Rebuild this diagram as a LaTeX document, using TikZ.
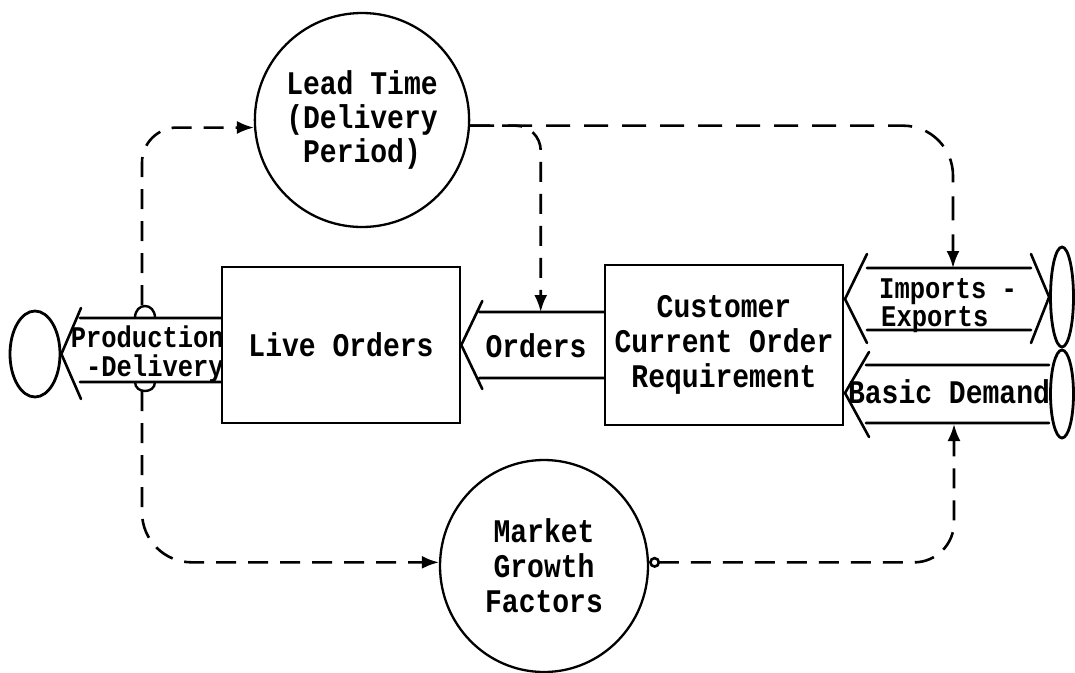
\documentclass[tikz,border=0pt]{standalone}
\usepackage{fontspec}
\setmonofont[FakeStretch=0.85]{Liberation Mono}
\usetikzlibrary{shapes.geometric, arrows.meta, calc}

\begin{document}
\begin{tikzpicture}[x=1pt, y=-1pt,
  every node/.style={font=\ttfamily\bfseries\fontsize{33}{34}\selectfont, inner sep=0pt},
  box/.style={draw, line width=2.6pt, minimum width=238pt},
  bubble/.style={draw, ellipse, line width=2.3pt, align=center},
  source/.style={draw, ellipse, line width=2.8pt},
  fat/.style={line width=2.6pt, line join=round, line cap=round},
  tip/.style={-{Latex[length=17pt, width=13pt]}},
  flowline/.style={line width=2.6pt, dash pattern=on 20pt off 12pt, tip},
  valve/.style={line width=2.4pt},
  tight/.style={font=\ttfamily\bfseries\fontsize{30}{30}\selectfont}]

\useasboundingbox (0,0) rectangle (1075,672);

% ---- levels and auxiliaries -------------------------------------------
\node[bubble, minimum width=210pt, minimum height=214pt] (lead) at (362,120)
  {Lead Time\\(Delivery\\Period)};
\node[bubble, minimum width=208pt, minimum height=212pt,
      font=\ttfamily\bfseries\fontsize{33}{35}\selectfont] (market) at (544,566)
  {Market\\Growth\\Factors};

\node[box, minimum height=156pt] (live) at (341,345) {Live Orders};
\node[box, minimum height=160pt, align=center,
      font=\ttfamily\bfseries\fontsize{33}{35}\selectfont] (cust) at (724,345)
  {Customer\\Current Order\\Requirement};

% ---- sources and sinks -------------------------------------------------
\node[source, minimum width=50pt, minimum height=86pt] (sinkP) at (35,354) {};
\node[source, minimum width=23pt, minimum height=100pt] (srcIE) at (1062,297) {};
\node[source, minimum width=23pt, minimum height=88pt] (srcBD) at (1062,394) {};

% ---- Orders flow (customer -> live orders) -----------------------------
\coordinate (ordTop) at ($(cust.west)+(-63,-33)$);
\draw[fat] ($(cust.west)+(0,-33)$) -- ($(live.east)+(18,-33)$)
           ($(live.east)+(21,-44)$) -- (live.east) -- ($(live.east)+(21,44)$)
           ($(live.east)+(18,33)$) -- ($(cust.west)+(0,33)$);
\node (ordtxt) at (536,346) {Orders};

% ---- Production delivery flow (live orders -> sink) --------------------
\draw[fat] ($(live.west)+(0,-27)$) -- (80,318)
           (81,308) -- (sinkP.east) -- (81,399)
           (80,382) -- ($(live.west)+(0,37)$);
\node[tight, anchor=base east] (prodtxt1) at (224,347) {Production};
\node[tight, anchor=base east] (prodtxt2) at (224,376) {-Delivery};

% valve on the production flow
\draw[valve] (135,318) .. controls (135,302) and (155,302) .. (155,318);
\draw[valve] (135,382) .. controls (135,394) and (155,394) .. (155,382);
\coordinate (vt) at (142,305);
\coordinate (vb) at (142,391);

% ---- Imports / Exports (two-way flow) ----------------------------------
\coordinate (ieL) at (845,299);
\draw[fat] (867,268) -- (1031,268)
           (867,254) -- (ieL) -- (867,343)
           (867,330) -- (1031,330)
           (1031,254) -- (srcIE.west) -- (1031,343);
\node[tight, anchor=base west] (ietxt1) at (879,298) {Imports -};
\node[tight, anchor=base west] (ietxt2) at (881,326) {Exports};

% ---- Basic Demand flow --------------------------------------------------
\coordinate (bdL) at (845,393);
\draw[fat] (srcBD.west |- 0,365) -- (866,365)
           (869,352) -- (bdL) -- (869,437)
           (866,423) -- (srcBD.west |- 0,423);
\node (bdtxt) at (949,392) {Basic Demand};

% ---- information links -----------------------------------------------
\coordinate (ieTop) at (953,268);
\coordinate (bdBot) at (954,424);

\draw[flowline, rounded corners=35pt] (vt) |- (lead.184);
\draw[flowline, rounded corners=50pt] (vb) |- (market.178);
\draw[flowline, rounded corners=25pt] (lead.-3) -| (ordTop);
\draw[flowline, dash pattern=on 24pt off 14pt, rounded corners=50pt] (lead.-3) -| (ieTop);
\draw[flowline, {Circle[open, length=11pt, width=11pt]}-{Latex[length=17pt, width=13pt]},
      rounded corners=40pt] (market.2) -| (bdBot);

\end{tikzpicture}
\end{document}
